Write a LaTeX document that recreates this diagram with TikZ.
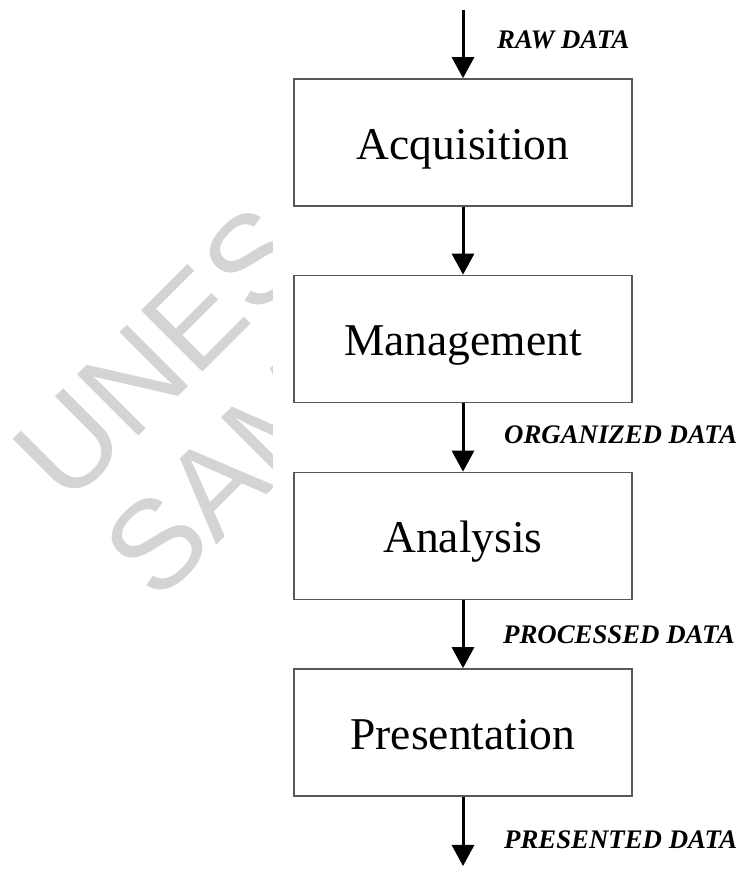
\documentclass[tikz,border=0pt]{standalone}
\usepackage{fontspec}
\setmainfont{Liberation Serif}
\newfontfamily\wmfont{Liberation Sans}
\usetikzlibrary{arrows.meta}
\definecolor{boxline}{HTML}{585858}
\definecolor{wmgray}{HTML}{D4D4D4}
\tikzset{
  stagebox/.style={draw=boxline, line width=1.6pt, fill=white, minimum width=338pt, minimum height=127pt, inner sep=0pt, text height=44pt, text depth=10pt, font=\fontsize{45.5}{50}\selectfont},
  flowarrow/.style={line width=3pt, -{Triangle[width=22pt,length=21pt]}},
  datalabel/.style={anchor=west, inner sep=0pt, font=\fontsize{26.8}{30}\selectfont\bfseries\itshape},
  wmtext/.style={anchor=base west, inner sep=0pt, rotate=45, text=wmgray, font=\fontsize{126}{130}\selectfont\wmfont}
}
\begin{document}
\begin{tikzpicture}[x=1pt,y=1pt]
\useasboundingbox (0,0) rectangle (741,869);
\fill[white] (0,0) rectangle (741,869);
\begin{scope}
  \clip (0,0) rectangle (272,869);
  \node[wmtext] (wm1) at (67,361) {UNES};
  \node[wmtext] (wm2) at (157,264) {SAM};
\end{scope}
\node[stagebox] (acq) at (463,726.5) {Acquisition};
\node[stagebox] (man) at (463,530) {Management};
\node[stagebox] (ana) at (463,333) {Analysis};
\node[stagebox] (pre) at (463,136.5) {Presentation};
\coordinate (in) at (463,859);
\coordinate (out) at (463,3);
\draw[flowarrow] (in) -- (acq.north);
\draw[flowarrow] (acq.south) -- (man.north);
\draw[flowarrow] (man.south) -- (ana.north);
\draw[flowarrow] (ana.south) -- (pre.north);
\draw[flowarrow] (pre.south) -- (out);
\node[datalabel] (l1) at (497,829) {RAW DATA};
\node[datalabel] (l2) at (504,434) {ORGANIZED DATA};
\node[datalabel] (l3) at (503,234) {PROCESSED DATA};
\node[datalabel] (l4) at (504,29) {PRESENTED DATA};
\end{tikzpicture}
\end{document}
